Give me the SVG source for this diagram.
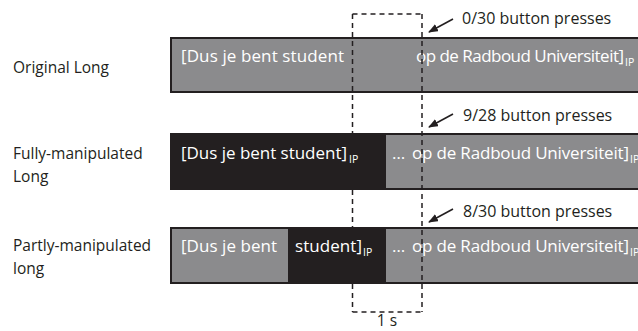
<svg xmlns="http://www.w3.org/2000/svg" width="638" height="331" viewBox="0 0 638 331">
<style>
.lbl{font-family:"Open Sans","Liberation Sans",sans-serif;font-size:15.5px;fill:#231f20}
.bt{font-family:"Open Sans","Liberation Sans",sans-serif;font-size:17px;fill:#ffffff}
.sub{font-family:"Open Sans","Liberation Sans",sans-serif;font-size:10.5px;fill:#ffffff}
.ann{font-family:"Open Sans","Liberation Sans",sans-serif;font-size:16px;fill:#231f20}
.gray{fill:#8b8b8d}
.blk{fill:#231f20}
.frame{fill:none;stroke:#231f20;stroke-width:2}
.dash{stroke:#231f20;stroke-width:1.5;stroke-dasharray:5 4;fill:none}
.arr{stroke:#231f20;stroke-width:1.6;fill:none;marker-end:url(#ah)}
</style>
<defs>
<marker id="ah" viewBox="0 0 10 8" refX="9" refY="4" markerWidth="10" markerHeight="8" markerUnits="userSpaceOnUse" orient="auto">
<path d="M0,0 L10,4 L0,8 Z" fill="#231f20"/>
</marker>
</defs>
<rect width="638" height="331" fill="#ffffff"/>

<g id="row-original">
<text class="lbl" x="13" y="73">Original Long</text>
<rect class="gray" x="171" y="38" width="480" height="54"/>
<rect class="frame" x="171" y="38" width="480" height="54"/>
<text class="bt" x="181" y="62" textLength="163">[Dus je bent student</text>
<text class="bt" x="416" y="62" textLength="208">op de Radboud Universiteit]</text>
<text class="sub" x="625" y="66">IP</text>
</g>

<g id="row-fully">
<text class="lbl" x="13" y="159">Fully-manipulated</text>
<text class="lbl" x="13" y="182">Long</text>
<rect class="blk" x="171" y="134" width="215" height="55"/>
<rect class="gray" x="386" y="134" width="265" height="55"/>
<rect class="frame" x="171" y="134" width="480" height="55"/>
<text class="bt" x="181" y="159" textLength="166">[Dus je bent student]</text>
<text class="sub" x="349" y="163">IP</text>
<text class="bt" x="392" y="159">…</text>
<text class="bt" x="412" y="159" textLength="217">op de Radboud Universiteit]</text>
<text class="sub" x="630" y="163">IP</text>
</g>

<g id="row-partly">
<text class="lbl" x="13" y="251">Partly-manipulated</text>
<text class="lbl" x="13" y="274">long</text>
<rect class="gray" x="171" y="228" width="117" height="55"/>
<rect class="blk" x="288" y="228" width="98" height="55"/>
<rect class="gray" x="386" y="228" width="265" height="55"/>
<rect class="frame" x="171" y="228" width="480" height="55"/>
<text class="bt" x="181" y="252" textLength="96">[Dus je bent</text>
<text class="bt" x="295" y="252" textLength="67">student]</text>
<text class="sub" x="363" y="256">IP</text>
<text class="bt" x="392" y="252">…</text>
<text class="bt" x="412" y="252" textLength="217">op de Radboud Universiteit]</text>
<text class="sub" x="630" y="256">IP</text>
</g>

<g id="window">
<line class="dash" x1="352.5" y1="14" x2="422" y2="14"/>
<line class="dash" x1="352.5" y1="312" x2="422" y2="312"/>
<line class="dash" x1="422" y1="14" x2="422" y2="312"/>
<line class="dash" x1="352.5" y1="14" x2="352.5" y2="134"/>
<line class="dash" x1="352.5" y1="190" x2="352.5" y2="228"/>
<line class="dash" x1="352.5" y1="284" x2="352.5" y2="312"/>
<text class="lbl" x="387" y="326" text-anchor="middle">1 s</text>
</g>

<g id="connectors">
<line class="arr" x1="453" y1="19" x2="429" y2="32"/>
<line class="arr" x1="453" y1="114" x2="429" y2="127"/>
<line class="arr" x1="453" y1="209" x2="429" y2="222"/>
</g>

<g id="annotations">
<text class="ann" x="462" y="24">0/30 button presses</text>
<text class="ann" x="463" y="121">9/28 button presses</text>
<text class="ann" x="463" y="217">8/30 button presses</text>
</g>
</svg>
